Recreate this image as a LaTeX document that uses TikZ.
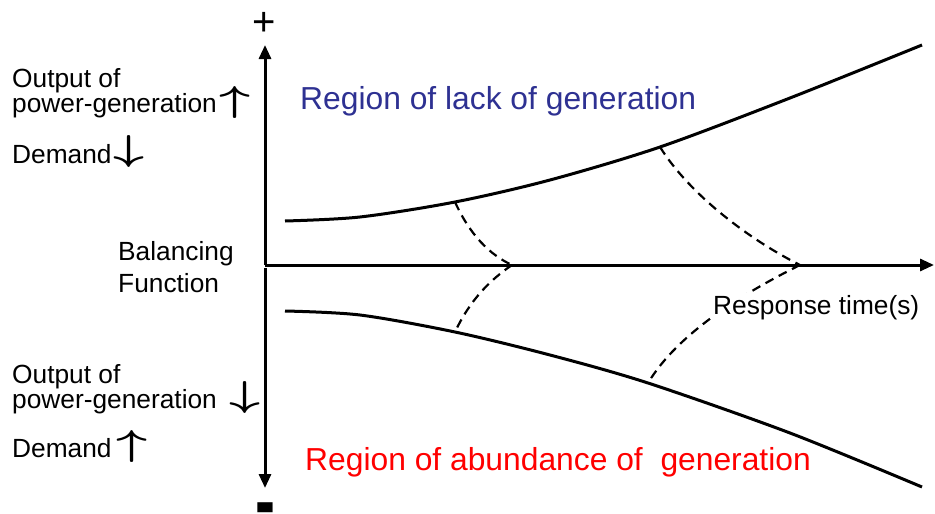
\RequirePackage{fix-cm}
\documentclass[tikz,border=0pt]{standalone}
\usepackage{fontspec}
\setmainfont{Liberation Sans}
\usetikzlibrary{arrows.meta}
\definecolor{lackblue}{RGB}{46,49,146}
\definecolor{abundred}{RGB}{255,0,0}
\newcommand{\bigarrow}[1]{\scalebox{1.5}[1]{\boldmath$#1$}}
\begin{document}
\begin{tikzpicture}[x=1pt,y=-1pt,
  axis/.style={line width=3pt,-{Triangle[length=14pt,width=12pt]}},
  curve/.style={line width=3pt},
  dashcurve/.style={line width=2.2pt,dash pattern=on 9pt off 6pt},
  lbl/.style={font=\fontsize{26.3}{26.3}\selectfont,inner sep=0pt,anchor=base west},
  arr/.style={font=\fontsize{36}{36}\selectfont,inner sep=0pt,anchor=base west},
  region/.style={font=\fontsize{31.8}{31.8}\selectfont,inner sep=0pt,anchor=base west}]
\useasboundingbox (0,0) rectangle (935,514);
% axes
\coordinate (O) at (265,265);
\coordinate (top) at (265,45);
\coordinate (Olow) at (265,268);
\coordinate (bot) at (265,488);
\coordinate (xend) at (934,265);
\draw[axis] (O) -- (top);
\draw[axis] (Olow) -- (bot);
\draw[axis] (O) -- (xend);
\node[inner sep=0pt,font=\fontsize{40}{40}\selectfont] (plus) at (264,24) {+};
\node[inner sep=0pt,anchor=north,font=\fontsize{60}{60}\selectfont\bfseries] (minus) at (265,503) {\scalebox{1}[1.4]{-}};
% curves
\coordinate (u1) at (455,202);
\coordinate (u2) at (660,147);
\coordinate (l1) at (455,332);
\coordinate (l2) at (648,383);
\coordinate (a1) at (512,265);
\coordinate (a2) at (800,265);
\draw[curve] plot[smooth] coordinates {(285,221) (360,217) (u1) (550,180) (u2) (790,98) (922,45)};
\draw[curve] plot[smooth] coordinates {(285,311) (360,315) (l1) (550,355) (l2) (790,433) (922,487)};
\draw[dashcurve] (u1) .. controls (470,235) and (490,255) .. (a1);
\draw[dashcurve] (a1) .. controls (490,280) and (470,300) .. (l1);
\draw[dashcurve] (u2) .. controls (690,195) and (750,240) .. (a2);
\draw[dashcurve] (a2) .. controls (750,290) and (680,330) .. (l2);
% labels
\node[lbl,fill=white,inner sep=2pt] (resp) at (711,314) {Response time(s)};
\node[region,text=lackblue] (lack) at (300,109) {Region of lack of generation};
\node[region,text=abundred] (abund) at (305,470) {Region of abundance of\ \ generation};
\node[lbl] (out1) at (12,87) {Output of};
\node[lbl] (pg1) at (12,112) {power-generation};
\node[arr] (up1) at (219,111) {\bigarrow{\uparrow}};
\node[lbl] (dem1) at (12,163) {Demand};
\node[arr] (dn1) at (113,160) {\bigarrow{\downarrow}};
\node[lbl] (bal) at (118,260) {Balancing};
\node[lbl] (fun) at (118,292) {Function};
\node[lbl] (out2) at (12,383) {Output of};
\node[lbl] (pg2) at (12,408) {power-generation};
\node[arr] (dn2) at (229,406) {\bigarrow{\downarrow}};
\node[lbl] (dem2) at (12,457) {Demand};
\node[arr] (up2) at (116,455) {\bigarrow{\uparrow}};
\end{tikzpicture}
\end{document}
